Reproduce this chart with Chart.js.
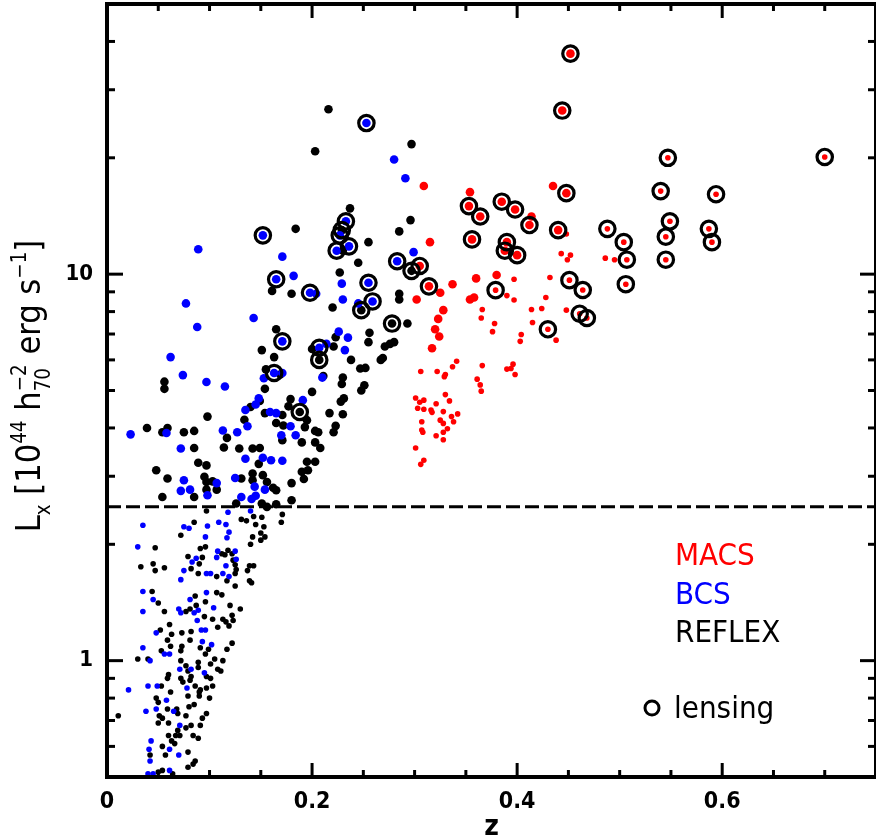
<!DOCTYPE html>
<html>
<head>
<meta charset="utf-8">
<script src="https://cdn.jsdelivr.net/npm/chart.js@4"></script>
<style>
  html, body { margin: 0; padding: 0; background: #fff; }
  canvas { display: block; }
</style>
</head>
<body>
<canvas id="grafico" width="876" height="839"></canvas>
<script>
// redshift / luminosity (Lx in 1e44 h70^-2 erg/s)
const reflexZ = [0.184,0.161,0.180,0.165,0.151,0.163,0.155,0.169,0.056,0.056,0.154,0.179,
  0.039,0.054,0.059,0.075,0.085,0.098,0.085,0.117,0.114,0.129,0.142,0.149,0.134,0.140,0.149,0.154,0.171,0.165,0.172,0.177,0.188,0.171,
  0.048,0.059,0.054,0.085,0.089,0.097,0.095,0.097,0.103,0.097,0.107,0.131,0.142,0.142,0.152,0.156,0.162,0.165,0.151,0.156,0.165,0.180,0.180,0.126,0.148,
  0.216,0.203,0.297,0.237,0.229,0.230,0.255,0.245,0.296,0.285,0.297,0.227,0.248,0.220,0.285,0.285,0.278,0.293,
  0.256,0.255,0.223,0.221,0.207,0.200,0.238,0.247,0.252,0.269,0.271,0.280,0.276,0.267,0.230,0.229,0.251,0.248,0.200,0.231,0.228,0.217,0.230,0.223,0.221,0.195,0.193,0.206,0.203,0.190,0.203,0.208,0.195,0.203,0.196,0.190,0.211,0.192];
const reflexLx = [13.1,9.05,8.9,7.2,6.36,6.1,5.67,5.5,5.27,5.05,5.05,4.75,
  4.0,3.9,4.0,3.9,3.93,4.28,3.55,3.77,3.56,3.54,3.54,3.55,4.2,4.53,4.7,4.37,4.32,4.12,4.06,4.55,4.4,3.72,
  3.11,2.96,2.65,2.65,3.25,3.2,2.99,2.9,2.91,2.77,2.77,2.96,3.05,2.93,3.02,2.9,2.8,2.76,2.55,2.5,2.54,2.88,2.6,2.55,3.23,
  26.7,20.8,21.7,14.8,13.0,11.5,12.1,10.7,13.8,12.9,10.2,10.1,8.07,8.2,8.9,8.6,7.45,7.45,
  7.05,6.67,6.87,6.5,6.0,6.4,6.0,5.7,5.72,6.07,6.5,6.67,6.6,6.0,5.4,5.2,5.16,5.0,4.96,4.77,4.68,4.37,4.34,4.05,3.9,4.19,4.02,3.9,3.93,3.67,3.67,3.55,3.27,3.27,3.11,3.08,5.45,2.95];

// REFLEX below the cut (small dots)
const reflexLowZ = [0.097,0.131,0.136,0.143,0.151,0.145,0.153,0.150,0.154,0.150,0.171,0.170,0.047,0.033,0.045,0.047,0.056,0.044,0.072,0.085,
  0.091,0.096,0.079,0.093,0.082,0.090,0.089,0.107,0.112,0.118,0.122,0.115,0.123,0.125,0.126,0.125,0.117,0.139,0.143,0.137,
  0.139,0.141,0.125,0.140,0.142,0.086,0.107,0.112,
  0.050,0.056,0.077,0.081,0.087,0.095,0.096,0.103,0.108,0.113,0.116,0.119,0.122,0.123,0.130,0.120,0.061,0.052,0.063,0.073,
  0.082,0.059,0.062,0.081,0.073,0.053,0.072,0.030,0.040,0.072,0.091,0.099,0.096,0.089,0.105,0.113,0.117,0.122,0.101,0.108,
  0.111,0.089,0.077,0.079,0.082,0.081,0.060,0.059,0.072,0.074,0.097,0.101,0.086,0.091,0.097,0.103,0.053,0.011,0.062,0.079,
  0.090,0.090,0.100,0.048,0.050,0.059,0.068,0.069,0.077,0.080,0.085,0.051,0.054,0.050,0.060,0.097,0.093,0.091,0.069,0.067,
  0.071,0.077,0.082,0.084,0.089,0.060,0.063,0.066,0.054,0.079,0.042,0.057,0.084,0.086,0.079,0.054,0.050,0.064];
const reflexLowLx = [2.44,2.32,2.30,2.36,2.35,2.25,2.22,2.14,2.09,2.05,2.39,2.28,1.96,1.75,1.78,1.71,1.74,1.51,2.11,2.28,
  1.95,1.97,1.86,1.85,1.73,1.78,1.68,1.65,1.89,1.93,1.89,1.88,1.82,1.77,1.72,1.68,1.61,1.76,1.76,1.71,
  1.61,1.59,1.56,2.0,2.09,1.47,1.50,1.48,
  1.41,1.34,1.34,1.36,1.39,1.30,1.42,1.28,1.22,1.28,1.26,1.23,1.31,1.27,1.36,1.39,1.24,1.20,1.17,1.18,
  1.19,1.13,1.09,1.13,1.09,1.06,1.06,1.01,1.01,1.00,1.08,1.07,1.04,0.99,1.01,1.00,1.07,1.11,0.98,0.95,
  0.94,0.96,0.97,0.94,0.91,0.89,0.92,0.90,0.90,0.88,0.91,0.90,0.86,0.84,0.85,0.86,0.86,0.72,0.83,0.81,
  0.83,0.81,0.80,0.80,0.78,0.75,0.75,0.73,0.72,0.76,0.77,0.72,0.71,0.69,0.69,0.73,0.71,0.68,0.66,0.64,
  0.64,0.67,0.68,0.64,0.63,0.64,0.62,0.61,0.60,0.58,0.57,0.57,0.54,0.55,0.53,0.52,0.515,0.51];

const bcsZ = [0.152,0.089,0.171,0.165,0.182,0.077,0.143,0.088,0.171,0.062,0.163,0.171,0.074,0.097,0.115,0.153,0.148,
  0.023,0.058,0.072,0.113,0.127,0.137,0.135,0.145,0.159,0.165,0.179,0.170,0.184,0.075,0.072,0.081,0.107,0.098,0.125,0.144,0.154,0.145,0.141,0.131,0.135,0.152,0.160,0.171,
  0.253,0.280,0.291,0.233,0.227,0.236,0.224,0.299,0.283,0.229,0.255,0.198,0.204,0.259,0.230,0.245,
  0.226,0.235,0.207,0.232,0.210,0.191,0.214];
const bcsLx = [12.6,11.6,11.1,9.7,9.9,8.4,7.7,7.3,6.7,6.1,5.55,5.55,5.48,5.26,5.12,5.38,4.77,
  3.85,3.88,3.54,3.94,3.9,4.04,4.45,4.6,4.4,4.37,4.04,3.83,3.83,2.93,2.75,2.77,2.88,2.68,2.97,2.82,2.77,2.67,2.62,2.65,3.33,3.35,3.3,3.29,
  24.6,19.8,17.7,13.7,12.6,11.8,11.5,11.4,10.8,9.45,9.5,8.95,8.9,8.5,8.6,8.4,
  7.1,6.85,6.45,6.36,5.4,4.72,6.6];

const bcsLowZ = [0.118,0.140,0.035,0.030,0.035,0.075,0.080,0.098,0.109,0.116,0.119,0.096,0.087,0.083,0.075,0.072,0.097,0.101,0.108,0.107,
  0.125,0.126,0.117,0.116,0.113,0.119,0.097,0.081,0.045,
  0.035,0.070,0.072,0.085,0.089,0.088,0.104,0.048,0.092,0.096,0.056,0.061,0.035,0.042,0.093,0.102,0.071,0.082,0.095,0.078,
  0.049,0.040,0.021,0.058,0.048,0.065,0.038,0.071,0.043,0.041,0.042,0.061,0.070,0.061,0.040,0.045];
const bcsLowLx = [2.42,2.44,2.24,1.97,1.51,2.22,2.20,2.23,2.28,2.25,2.15,2.09,1.84,1.80,1.71,1.62,1.68,1.68,1.92,1.85,
  1.92,1.83,2.08,1.76,1.68,1.65,1.50,1.44,1.44,
  1.34,1.36,1.33,1.33,1.35,1.27,1.37,1.18,1.20,1.20,1.04,1.04,1.08,1.00,1.12,1.10,0.95,0.95,0.93,0.85,
  0.86,0.86,0.84,0.79,0.75,0.74,0.74,0.68,0.62,0.59,0.55,0.59,0.57,0.52,0.51,0.51];

const macsZ = [0.452,0.444,0.448,0.435,0.309,0.354,0.353,0.364,0.385,0.398,0.414,0.412,0.440,0.356,0.390,0.388,0.400,0.315,0.305,0.314,
  0.302,0.325,0.328,0.323,0.337,0.360,0.380,0.354,0.358,0.320,0.324,0.317];
const macsLx = [37.2,26.5,16.2,16.9,16.9,16.3,15.0,14.1,15.4,14.7,14.1,13.4,13.0,12.3,12.1,11.5,11.2,12.1,10.5,9.3,
  8.6,8.95,8.07,7.66,9.42,9.75,9.95,8.6,8.7,7.2,6.9,6.43];

// MACS small dots
const macsFaintZ = [0.547,0.540,0.448,0.488,0.504,0.507,0.506,0.549,0.545,0.545,0.443,0.452,0.449,0.486,0.495,0.451,0.464,0.461,0.468,0.430,
  0.379,0.397,0.432,0.366,0.365,0.378,0.390,0.397,0.414,0.424,0.428,0.448,0.415,0.376,0.404,0.403,0.438,0.366,0.390,0.394,
  0.396,0.398,0.361,0.364,0.365,0.700,0.594,0.587,0.590,
  0.341,0.337,0.330,0.329,0.322,0.306,
  0.301,0.305,0.309,0.303,0.309,0.316,0.317,0.321,0.330,0.334,0.336,0.342,0.338,0.328,0.325,0.328,0.332,0.328,0.321,0.328,
  0.307,0.307,0.308,0.301,0.309,0.306];
const macsFaintLx = [20.0,16.4,12.7,13.1,12.1,10.9,9.42,13.7,12.5,10.9,11.3,11.2,10.9,11.0,10.9,9.65,9.1,7.9,7.7,7.2,
  9.09,9.7,9.8,8.1,7.7,7.45,8.8,8.57,8.1,8.15,8.7,8.07,7.5,7.1,6.98,6.7,6.75,5.8,5.68,5.7,
  5.85,5.5,5.35,5.17,4.98,20.1,16.1,13.1,12.1,
  5.95,5.76,5.5,5.43,5.6,5.6,
  4.78,4.66,4.72,4.5,4.47,4.45,4.39,4.62,4.88,4.7,4.28,4.35,4.15,4.41,4.19,4.11,3.98,3.9,3.82,3.73,
  4.15,3.95,3.9,3.55,3.3,3.22];

// clusters with lensing data (ringed)
const lensZ = [0.188,0.229,0.297,0.248,0.278,0.207,
  0.152,0.165,0.171,0.163,0.253,0.233,0.227,0.236,0.224,0.283,0.255,0.198,0.259,0.207,
  0.452,0.444,0.448,0.353,0.364,0.385,0.398,0.412,0.440,0.356,0.390,0.388,0.400,0.305,0.314,
  0.547,0.540,0.488,0.504,0.507,0.506,0.549,0.545,0.545,0.451,0.464,0.461,0.468,0.430,0.379,0.700,0.594,0.587,0.590];
const lensLx = [4.4,13.0,10.2,8.07,7.45,6.0,
  12.6,9.7,6.7,5.55,24.6,13.7,12.6,11.8,11.5,10.8,9.5,8.95,8.5,6.45,
  37.2,26.5,16.2,15.0,14.1,15.4,14.7,13.4,13.0,12.3,12.1,11.5,11.2,10.5,9.3,
  20.0,16.4,13.1,12.1,10.9,9.42,13.7,12.5,10.9,9.65,9.1,7.9,7.7,7.2,9.09,20.1,16.1,13.1,12.1];

const zTicks = [0, 0.2, 0.4, 0.6];
const lxTicks = [1, 10];
const lxCorte = 2.5; // linha tracejada

const FONTE = "'DejaVu Sans Condensed', 'Liberation Sans Narrow', 'DejaVu Sans', sans-serif";

function pontos(xs, ys) {
  return xs.map((x, i) => ({ x: x, y: ys[i] }));
}

function serie(label, xs, ys, cor, raio) {
  return {
    label: label,
    data: pontos(xs, ys),
    pointRadius: raio,
    pointBackgroundColor: cor,
    pointBorderWidth: 0,
    showLine: false
  };
}

function linha(ctx, x1, y1, x2, y2) {
  ctx.beginPath();
  ctx.moveTo(x1, y1);
  ctx.lineTo(x2, y2);
  ctx.stroke();
}

// titulo do eixo y com sub/sobrescritos
function tituloY(ctx) {
  const F = 34;
  const partes = [
    { t: 'L' }, { t: 'x', sub: true }, { t: ' [10' }, { t: '44', sup: true },
    { t: ' h' }, { t: '70', sub: true, t2: '\u22122' }, { t: ' erg s' }, { t: '\u22121', sup: true }, { t: ']' }
  ];
  const fn = s => s + 'px ' + FONTE;
  let total = 0;
  partes.forEach(p => {
    const s = (p.sub || p.sup) ? F * 0.6 : F;
    ctx.font = fn(s);
    p.w = ctx.measureText(p.t).width;
    if (p.t2) p.w = Math.max(p.w, ctx.measureText(p.t2).width);
    total += p.w;
  });
  ctx.save();
  ctx.translate(40, 386);
  ctx.rotate(-Math.PI / 2);
  ctx.fillStyle = '#000';
  ctx.textBaseline = 'alphabetic';
  ctx.textAlign = 'left';
  let u = -total / 2;
  partes.forEach(p => {
    if (p.sub || p.sup) {
      ctx.font = fn(F * 0.6);
      if (p.sub) ctx.fillText(p.t, u, F * 0.28);
      else ctx.fillText(p.t, u, -F * 0.42);
      if (p.t2) ctx.fillText(p.t2, u, -F * 0.42);
    } else {
      ctx.font = fn(F);
      ctx.fillText(p.t, u, 0);
    }
    u += p.w;
  });
  ctx.restore();
}

const moldura = {
  id: 'moldura',
  beforeDatasetsDraw(chart) {
    const { ctx, chartArea: a, scales } = chart;
    const py = scales.y.getPixelForValue(lxCorte);
    ctx.save();
    ctx.strokeStyle = '#000';
    ctx.lineWidth = 3;
    ctx.setLineDash([14, 5]);
    linha(ctx, a.left, py, a.right, py);
    ctx.restore();
  },
  afterDraw(chart) {
    const { ctx, chartArea: a, scales } = chart;
    ctx.save();
    ctx.strokeStyle = '#000';
    ctx.lineWidth = 4;
    ctx.strokeRect(a.left, a.top, a.right - a.left, a.bottom - a.top);

    ctx.lineWidth = 3;
    for (let i = 1; i < 15; i++) {
      const px = scales.x.getPixelForValue(i * 0.05);
      const len = i % 4 === 0 ? 14 : 7;
      linha(ctx, px, a.bottom, px, a.bottom - len);
      linha(ctx, px, a.top, px, a.top + len);
    }
    [0.1, 1, 10].forEach(d => {
      for (let m = 1; m <= 9; m++) {
        const v = m * d;
        if (v < 0.5 || v > 50.001) continue;
        const py = scales.y.getPixelForValue(v);
        const len = m === 1 ? 16 : 8;
        linha(ctx, a.left, py, a.left + len, py);
        linha(ctx, a.right, py, a.right - len, py);
      }
    });

    // legenda
    ctx.font = '31px ' + FONTE;
    ctx.textAlign = 'left';
    ctx.textBaseline = 'alphabetic';
    ctx.fillStyle = '#ff0000';
    ctx.fillText('MACS', 675, 565);
    ctx.fillStyle = '#0000ff';
    ctx.fillText('BCS', 675, 604);
    ctx.fillStyle = '#000';
    ctx.fillText('REFLEX', 675, 642);
    ctx.fillText('lensing', 674, 718);
    ctx.lineWidth = 3;
    ctx.beginPath();
    ctx.arc(652, 708, 7, 0, Math.PI * 2);
    ctx.stroke();
    ctx.restore();

    tituloY(ctx);
  }
};

const ctx = document.getElementById('grafico').getContext('2d');

const anel = {
  label: 'lensing',
  data: pontos(lensZ, lensLx),
  pointRadius: 7.7,
  pointBackgroundColor: 'rgba(0,0,0,0)',
  pointBorderColor: '#000',
  pointBorderWidth: 3.2,
  showLine: false
};

new Chart(ctx, {
  type: 'scatter',
  data: {
    datasets: [
      anel,
      serie('MACS', macsZ, macsLx, '#ff0000', 4.3),
      serie('MACS fraco', macsFaintZ, macsFaintLx, '#ff0000', 2.8),
      serie('BCS', bcsZ, bcsLx, '#0000ff', 4.3),
      serie('BCS baixo', bcsLowZ, bcsLowLx, '#0000ff', 2.8),
      serie('REFLEX', reflexZ, reflexLx, '#000000', 4.3),
      serie('REFLEX baixo', reflexLowZ, reflexLowLx, '#000000', 2.8)
    ]
  },
  options: {
    responsive: false,
    animation: false,
    events: [],
    layout: { autoPadding: false, padding: { top: 4, right: 0, left: 0, bottom: 0 } },
    plugins: {
      legend: { display: false },
      tooltip: { enabled: false }
    },
    scales: {
      x: {
        type: 'linear',
        min: 0,
        max: 0.75,
        grid: { display: false, drawTicks: false },
        border: { display: false },
        afterBuildTicks: s => { s.ticks = zTicks.map(v => ({ value: v })); },
        afterFit: s => { s.height = 62; s.paddingLeft = 0; s.paddingRight = 0; },
        ticks: {
          color: '#000',
          padding: 11,
          maxRotation: 0,
          autoSkip: false,
          font: { family: FONTE, size: 23, weight: 'bold' },
          callback: v => String(v)
        },
        title: {
          display: true,
          text: 'z',
          color: '#000',
          padding: 0,
          font: { family: FONTE, size: 28, weight: 'bold', lineHeight: 0.8 }
        }
      },
      y: {
        type: 'logarithmic',
        min: 0.5,
        max: 50,
        grid: { display: false, drawTicks: false },
        border: { display: false },
        afterBuildTicks: s => { s.ticks = lxTicks.map(v => ({ value: v })); },
        afterFit: s => { s.width = 107; s.paddingTop = 0; s.paddingBottom = 0; },
        ticks: {
          color: '#000',
          padding: 14,
          autoSkip: false,
          font: { family: FONTE, size: 22, weight: 'bold' },
          callback: v => String(v)
        }
      }
    }
  },
  plugins: [moldura]
});
</script>
</body>
</html>
